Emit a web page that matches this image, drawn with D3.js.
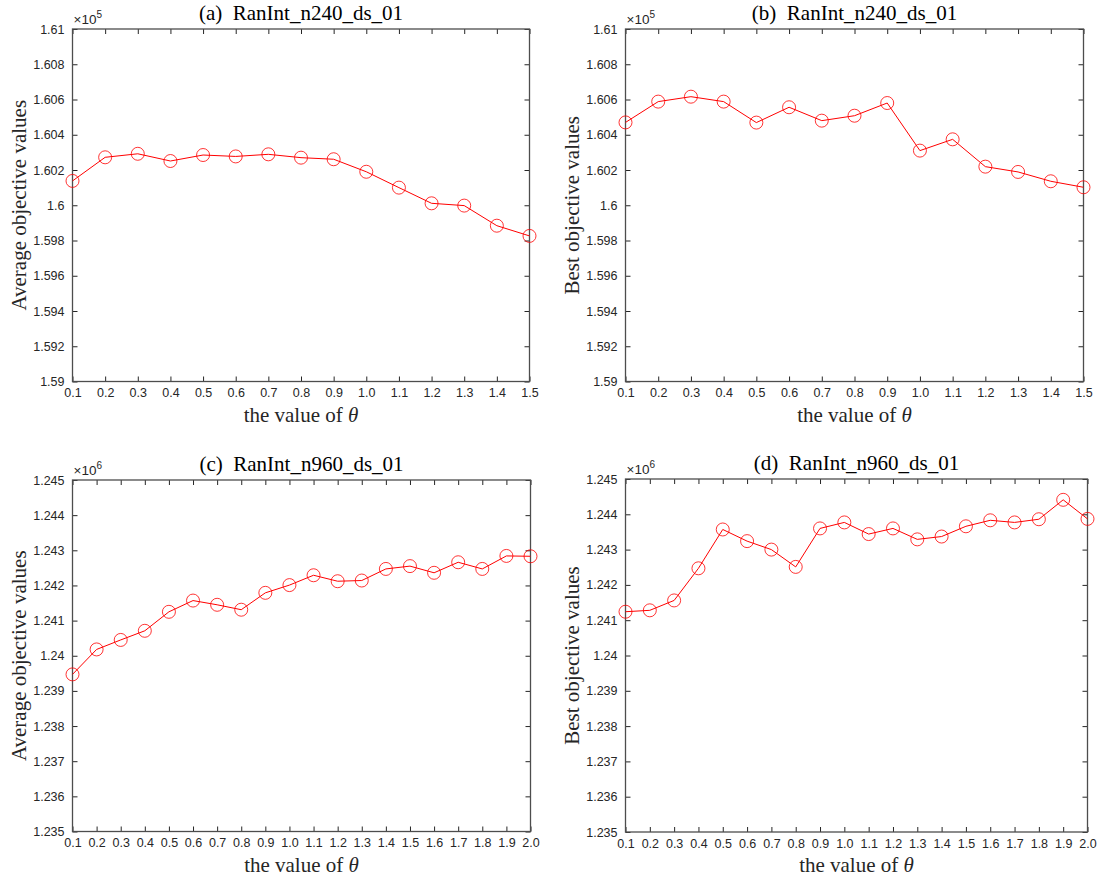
<!DOCTYPE html>
<html>
<head>
<meta charset="utf-8">
<script src="https://cdn.jsdelivr.net/npm/d3@7"></script>
<style>
  body { margin: 0; background: #fff; }
  svg { display: block; }
</style>
</head>
<body>
<svg id="fig" width="1103" height="883"></svg>
<script>
// theta values on the x axis
const thetaShort = [0.1, 0.2, 0.3, 0.4, 0.5, 0.6, 0.7, 0.8, 0.9, 1.0, 1.1, 1.2, 1.3, 1.4, 1.5];
const thetaLong = [0.1, 0.2, 0.3, 0.4, 0.5, 0.6, 0.7, 0.8, 0.9, 1.0, 1.1, 1.2, 1.3, 1.4, 1.5, 1.6, 1.7, 1.8, 1.9, 2.0];

// objective values (x10^5 for n240, x10^6 for n960)
const avgN240 = [1.60138, 1.60272, 1.60292, 1.60251, 1.60285, 1.60277, 1.60289, 1.60270, 1.60261, 1.60190,
                 1.60100, 1.60011, 1.59998, 1.59884, 1.59826];
const bestN240 = [1.60470, 1.60588, 1.60616, 1.60588, 1.60469, 1.60556, 1.60480, 1.60508, 1.60580, 1.60310,
                  1.60374, 1.60219, 1.60189, 1.60136, 1.60102];
const avgN960 = [1.23947, 1.24018, 1.24045, 1.24071, 1.24125, 1.24157, 1.24145, 1.24131, 1.24179, 1.24201,
                 1.24229, 1.24212, 1.24214, 1.24247, 1.24255, 1.24236, 1.24266, 1.24247, 1.24284, 1.24283];
const bestN960 = [1.24124, 1.24128, 1.24156, 1.24247, 1.24357, 1.24324, 1.24300, 1.24251, 1.24360, 1.24377,
                  1.24344, 1.24360, 1.24329, 1.24337, 1.24366, 1.24383, 1.24377, 1.24386, 1.24441, 1.24387];

const yTicksN240 = [1.59, 1.592, 1.594, 1.596, 1.598, 1.6, 1.602, 1.604, 1.606, 1.608, 1.61];
const yTicksN960 = [1.235, 1.236, 1.237, 1.238, 1.239, 1.24, 1.241, 1.242, 1.243, 1.244, 1.245];

const panels = [
  { title: "(a)  RanInt_n240_ds_01", ylabel: "Average objective values", exp: "5",
    x: thetaShort, y: avgN240, yTicks: yTicksN240, box: [72.5, 29, 529.5, 381.5] },
  { title: "(b)  RanInt_n240_ds_01", ylabel: "Best objective values", exp: "5",
    x: thetaShort, y: bestN240, yTicks: yTicksN240, box: [625.5, 29, 1083.5, 381.5] },
  { title: "(c)  RanInt_n960_ds_01", ylabel: "Average objective values", exp: "6",
    x: thetaLong, y: avgN960, yTicks: yTicksN960, box: [72.5, 480, 530.5, 831.5] },
  { title: "(d)  RanInt_n960_ds_01", ylabel: "Best objective values", exp: "6",
    x: thetaLong, y: bestN960, yTicks: yTicksN960, box: [625.5, 479, 1087.5, 832] }
];

const svg = d3.select("#fig");
const axisColor = "#262626";
const serif = "'Liberation Serif', 'Times New Roman', serif";
const sans = "'Liberation Sans', Arial, sans-serif";

panels.forEach(p => {
  const [x0, y0, x1, y1] = p.box;
  const g = svg.append("g");

  const x = d3.scaleLinear().domain(d3.extent(p.x)).range([x0, x1]);
  const y = d3.scaleLinear().domain(d3.extent(p.yTicks)).range([y1, y0]);

  const tickLen = 5;

  // bottom axis with labels
  const bottom = g.append("g")
    .attr("transform", `translate(0,${y1})`)
    .call(d3.axisBottom(x).tickValues(p.x).tickSizeInner(-tickLen).tickSizeOuter(0)
      .tickPadding(7).tickFormat(d => d.toFixed(1)));
  // top ticks
  const top = g.append("g")
    .attr("transform", `translate(0,${y0})`)
    .call(d3.axisTop(x).tickValues(p.x).tickSizeInner(-tickLen).tickSizeOuter(0).tickFormat(""));
  // left axis with labels
  const left = g.append("g")
    .attr("transform", `translate(${x0},0)`)
    .call(d3.axisLeft(y).tickValues(p.yTicks).tickSizeInner(-tickLen).tickSizeOuter(0)
      .tickPadding(8).tickFormat(d => String(+d.toFixed(3))));
  // right ticks
  const right = g.append("g")
    .attr("transform", `translate(${x1},0)`)
    .call(d3.axisRight(y).tickValues(p.yTicks).tickSizeInner(-tickLen).tickSizeOuter(0).tickFormat(""));

  [bottom, top, left, right].forEach(a => {
    a.select(".domain").remove();
    a.selectAll(".tick line").attr("stroke", axisColor).attr("stroke-width", 1);
    a.selectAll(".tick text")
      .attr("fill", axisColor)
      .style("font-family", sans)
      .style("font-size", "12.5px");
  });

  // axes box
  g.append("rect")
    .attr("x", x0).attr("y", y0)
    .attr("width", x1 - x0).attr("height", y1 - y0)
    .attr("fill", "none")
    .attr("stroke", "#4d4d4d")
    .attr("stroke-width", 1.3);

  // data line and markers
  const pts = p.x.map((v, i) => [v, p.y[i]]);
  g.append("path")
    .datum(pts)
    .attr("fill", "none")
    .attr("stroke", "#ff0000")
    .attr("stroke-width", 1)
    .attr("d", d3.line().x(d => x(d[0])).y(d => y(d[1])));

  g.selectAll("circle.mk")
    .data(pts)
    .join("circle")
    .attr("class", "mk")
    .attr("cx", d => x(d[0]))
    .attr("cy", d => y(d[1]))
    .attr("r", 6.5)
    .attr("fill", "none")
    .attr("stroke", "#ff0000")
    .attr("stroke-width", 0.8);

  // exponent label
  const ex = g.append("text")
    .attr("x", x0 + 1)
    .attr("y", y0 - 5)
    .attr("fill", axisColor)
    .style("font-family", sans)
    .style("font-size", "13.5px");
  ex.append("tspan").text("\u00d710");
  ex.append("tspan").attr("dy", -6).style("font-size", "10px").text(p.exp);

  // title
  g.append("text")
    .attr("x", (x0 + x1) / 2)
    .attr("y", y0 - 9)
    .attr("text-anchor", "middle")
    .attr("xml:space", "preserve")
    .style("white-space", "pre")
    .style("font-family", serif)
    .style("font-size", "21px")
    .attr("fill", "#000")
    .text(p.title);

  // x label
  const xl = g.append("text")
    .attr("x", (x0 + x1) / 2)
    .attr("y", y1 + 40)
    .attr("text-anchor", "middle")
    .style("font-family", serif)
    .style("font-size", "21px")
    .attr("fill", axisColor);
  xl.append("tspan").text("the value of ");
  xl.append("tspan").style("font-style", "italic").text("\u03b8");

  // y label
  g.append("text")
    .attr("transform", `translate(${x0 - 47},${(y0 + y1) / 2}) rotate(-90)`)
    .attr("text-anchor", "middle")
    .style("font-family", serif)
    .style("font-size", "21px")
    .attr("fill", axisColor)
    .text(p.ylabel);
});
</script>
</body>
</html>
